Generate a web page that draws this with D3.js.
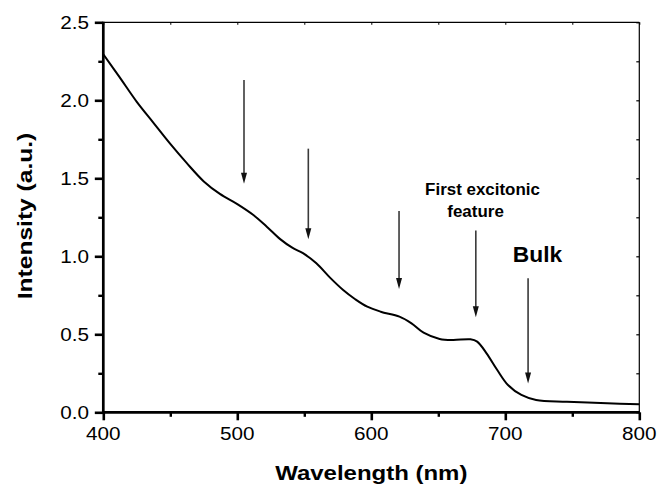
<!DOCTYPE html>
<html>
<head>
<meta charset="utf-8">
<script src="https://cdn.jsdelivr.net/npm/d3@7"></script>
<style>
  html, body { margin: 0; padding: 0; background: #fff; }
  svg { display: block; font-family: "Liberation Sans", Arial, sans-serif; }
</style>
</head>
<body>
<svg id="chart" width="660" height="488"></svg>
<script>
// ---- data ----
const wavelength = [400, 412, 425, 437, 450, 462, 475, 487, 500, 512, 522, 532, 541, 549, 559, 569, 579, 588, 597, 607, 621, 630, 639, 651, 661, 674, 679, 686, 694, 702, 712, 723, 746, 776, 800];
const intensity  = [2.295, 2.15, 1.99, 1.86, 1.72, 1.60, 1.48, 1.40, 1.335, 1.265, 1.19, 1.11, 1.055, 1.02, 0.955, 0.865, 0.784, 0.725, 0.677, 0.645, 0.613, 0.57, 0.51, 0.47, 0.463, 0.468, 0.453, 0.378, 0.271, 0.175, 0.111, 0.079, 0.068, 0.058, 0.051];

const xMajorTicks = [400, 500, 600, 700, 800];
const xMinorTicks = [450, 550, 650, 750];
const yMajorTicks = [0.0, 0.5, 1.0, 1.5, 2.0, 2.5];
const yMinorTicks = [0.25, 0.75, 1.25, 1.75, 2.25];

const arrowX   = [505, 553, 620.7, 678, 717];
const arrowTop = [2.13, 1.69, 1.29, 1.165, 0.86];
const arrowTip = [1.465, 1.11, 0.79, 0.61, 0.185];

const noteLabels = ["First excitonic", "feature", "Bulk"];
const noteX      = [683, 677.8, 724];
const noteY      = [1.393, 1.254, 0.965];

const xTitle = "Wavelength (nm)";
const yTitle = "Intensity (a.u.)";

// ---- layout ----
const svg = d3.select("#chart");
const pLeft = 103.3, pRight = 639.3, pTop = 22.3, pBottom = 412.3;

const x = d3.scaleLinear().domain([400, 800]).range([pLeft, pRight]);
const y = d3.scaleLinear().domain([0, 2.5]).range([pBottom, pTop]);

const TXT = "#000";

// top / right frame (thin) with small inward ticks
svg.append("line").attr("x1", pLeft).attr("x2", pRight).attr("y1", pTop).attr("y2", pTop)
  .attr("stroke", "#000").attr("stroke-width", 1.2);
svg.append("line").attr("x1", pRight).attr("x2", pRight).attr("y1", pTop).attr("y2", pBottom)
  .attr("stroke", "#000").attr("stroke-width", 1.2);

svg.append("g").attr("transform", `translate(0,${pTop})`)
  .call(d3.axisTop(x).tickValues(xMajorTicks.concat(xMinorTicks)).tickSize(-2.5).tickFormat(""))
  .call(g => g.select(".domain").remove())
  .call(g => g.selectAll("line").attr("stroke-width", 1));
svg.append("g").attr("transform", `translate(${pRight},0)`)
  .call(d3.axisRight(y).tickValues(yMajorTicks.concat(yMinorTicks)).tickSize(-3).tickFormat(""))
  .call(g => g.select(".domain").remove())
  .call(g => g.selectAll("line").attr("stroke-width", 1.2));

// bottom axis
const gx = svg.append("g").attr("transform", `translate(0,${pBottom})`);
gx.append("g").call(d3.axisBottom(x).tickValues(xMajorTicks).tickSize(8).tickFormat(""))
  .call(g => g.select(".domain").remove())
  .call(g => g.selectAll("line").attr("stroke-width", 2.6));
gx.append("g").call(d3.axisBottom(x).tickValues(xMinorTicks).tickSize(4.5).tickFormat(""))
  .call(g => g.select(".domain").remove())
  .call(g => g.selectAll("line").attr("stroke-width", 2.4));

// left axis
const gy = svg.append("g").attr("transform", `translate(${pLeft},0)`);
gy.append("g").call(d3.axisLeft(y).tickValues(yMajorTicks).tickSize(8.5).tickFormat(""))
  .call(g => g.select(".domain").remove())
  .call(g => g.selectAll("line").attr("stroke-width", 2.6));
gy.append("g").call(d3.axisLeft(y).tickValues(yMinorTicks).tickSize(5).tickFormat(""))
  .call(g => g.select(".domain").remove())
  .call(g => g.selectAll("line").attr("stroke-width", 2.4));

// thick axis lines
svg.append("line").attr("x1", pLeft - 1.3).attr("x2", pRight + 0.6).attr("y1", pBottom).attr("y2", pBottom)
  .attr("stroke", "#000").attr("stroke-width", 2.7);
svg.append("line").attr("x1", pLeft).attr("x2", pLeft).attr("y1", pTop - 0.6).attr("y2", pBottom + 1.3)
  .attr("stroke", "#000").attr("stroke-width", 2.7);

// tick labels
svg.append("g").selectAll("text").data(xMajorTicks).join("text")
  .attr("transform", d => `translate(${x(d)},440) scale(1.15,1)`)
  .attr("text-anchor", "middle").attr("font-size", 18).attr("fill", TXT)
  .text(d => d3.format("d")(d));
svg.append("g").selectAll("text").data(yMajorTicks).join("text")
  .attr("transform", d => `translate(89,${y(d) + 6.5}) scale(1.15,1)`)
  .attr("text-anchor", "end").attr("font-size", 18).attr("fill", TXT)
  .text(d => d3.format(".1f")(d));

// axis titles
svg.append("text")
  .attr("transform", `translate(${(pLeft + pRight) / 2},480) scale(1.17,1)`)
  .attr("text-anchor", "middle").attr("font-size", 20.5).attr("font-weight", "bold").attr("fill", TXT)
  .text(xTitle);
svg.append("text")
  .attr("transform", `translate(31.5,216) rotate(-90) scale(1.17,1)`)
  .attr("text-anchor", "middle").attr("font-size", 21).attr("font-weight", "bold").attr("fill", TXT)
  .text(yTitle);

// curve
const pts = wavelength.map((w, i) => [w, intensity[i]]);
svg.append("path").datum(pts)
  .attr("fill", "none").attr("stroke", "#000").attr("stroke-width", 2)
  .attr("stroke-linejoin", "round")
  .attr("d", d3.line().x(d => x(d[0])).y(d => y(d[1])).curve(d3.curveCatmullRom.alpha(0.5)));

// arrows
const arrowColor = "#3a3a3a";
const ag = svg.append("g");
arrowX.forEach((ax, i) => {
  const px = x(ax), y0 = y(arrowTop[i]), y1 = y(arrowTip[i]);
  ag.append("line").attr("x1", px).attr("x2", px).attr("y1", y0).attr("y2", y1 - 8)
    .attr("stroke", arrowColor).attr("stroke-width", 1.6);
  ag.append("path")
    .attr("d", `M${px - 3},${y1 - 11} L${px + 3},${y1 - 11} L${px},${y1} Z`)
    .attr("fill", "#111");
});

// notes
const noteSize = [16, 16, 21.5];
const noteStretch = [1.06, 1.06, 1.06];
svg.append("g").selectAll("text").data(noteLabels).join("text")
  .attr("transform", (d, i) => `translate(${x(noteX[i])},${y(noteY[i])}) scale(${noteStretch[i]},1)`)
  .attr("text-anchor", "middle").attr("font-weight", "bold")
  .attr("font-size", (d, i) => noteSize[i]).attr("fill", TXT)
  .text(d => d);
</script>
</body>
</html>
